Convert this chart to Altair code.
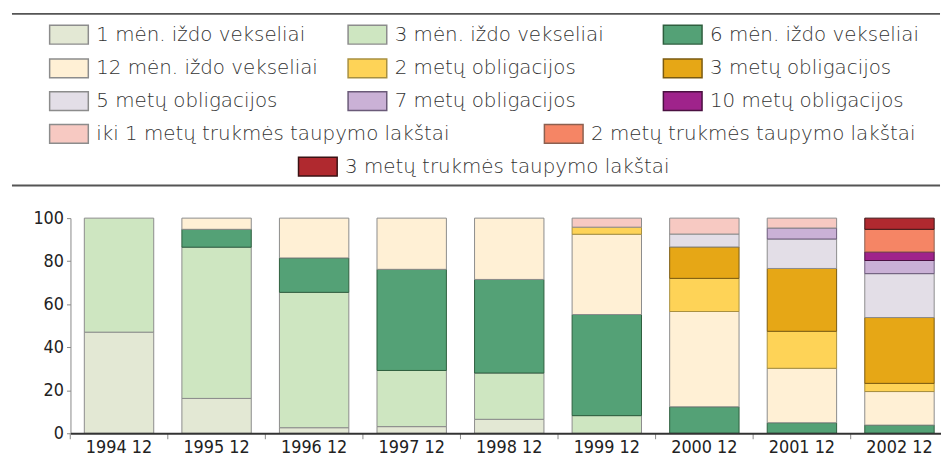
import altair as alt
import pandas as pd

# ---------------- data ----------------
periods = ["1994 12", "1995 12", "1996 12", "1997 12", "1998 12",
           "1999 12", "2000 12", "2001 12", "2002 12"]

series_names = [
    "1 mėn. iždo vekseliai", "3 mėn. iždo vekseliai", "6 mėn. iždo vekseliai",
    "12 mėn. iždo vekseliai", "2 metų obligacijos", "3 metų obligacijos",
    "5 metų obligacijos", "7 metų obligacijos", "10 metų obligacijos",
    "iki 1 metų trukmės taupymo lakštai", "2 metų trukmės taupymo lakštai",
    "3 metų trukmės taupymo lakštai",
]

m1 = [47.0, 16.2, 2.6, 3.1, 6.5, 0.0, 0.0, 0.0, 0.0]
m3 = [53.0, 70.3, 62.9, 26.1, 21.5, 8.2, 0.0, 0.0, 0.0]
m6 = [0.0, 8.3, 16.0, 47.0, 43.5, 47.0, 12.3, 4.9, 3.8]
m12 = [0.0, 5.2, 18.5, 23.8, 28.5, 37.3, 44.3, 25.3, 15.6]
y2 = [0.0, 0.0, 0.0, 0.0, 0.0, 3.3, 15.4, 17.2, 3.8]
y3 = [0.0, 0.0, 0.0, 0.0, 0.0, 0.0, 14.6, 29.2, 30.6]
y5 = [0.0, 0.0, 0.0, 0.0, 0.0, 0.0, 6.0, 13.7, 20.4]
y7 = [0.0, 0.0, 0.0, 0.0, 0.0, 0.0, 0.0, 5.1, 6.1]
y10 = [0.0, 0.0, 0.0, 0.0, 0.0, 0.0, 0.0, 0.0, 4.0]
s1 = [0.0, 0.0, 0.0, 0.0, 0.0, 4.2, 7.4, 4.6, 0.0]
s2 = [0.0, 0.0, 0.0, 0.0, 0.0, 0.0, 0.0, 0.0, 10.5]
s3 = [0.0, 0.0, 0.0, 0.0, 0.0, 0.0, 0.0, 0.0, 5.2]

series_values = [m1, m3, m6, m12, y2, y3, y5, y7, y10, s1, s2, s3]

# ---------------- styles ----------------
fills = ["#E3E8D4", "#CEE6C1", "#54A176", "#FFF0D5", "#FED357", "#E6A716",
         "#E3DEE7", "#CAB1D6", "#9F238B", "#F7C9C2", "#F58565", "#B0292F"]
strokes = ["#8C8C8C", "#8C8C8C", "#2E5E3E", "#8C8C8C", "#A89040", "#7A5A10",
           "#8C8C8C", "#6A5A78", "#4A1040", "#8C8C8C", "#8C6050", "#3A1214"]

# legend layout (page pixel coordinates)
leg_sx = [49, 350, 668, 49, 350, 668, 49, 350, 668, 49, 548, 300]
leg_cy = [33, 33, 33, 67, 67, 67, 100, 100, 100, 133, 133, 166]
sw_w, sw_h, txt_gap = 39, 19, 8

rows = []
for k, (name, vals) in enumerate(zip(series_names, series_values)):
    for p, v in zip(periods, vals):
        if v > 0:
            rows.append({"period": p, "series": name, "value": v, "ord": k})
df = pd.DataFrame(rows)

leg = pd.DataFrame({
    "series": series_names,
    "x1": leg_sx,
    "x2": [x + sw_w for x in leg_sx],
    "y1": [y - sw_h / 2 for y in leg_cy],
    "y2": [y + sw_h / 2 for y in leg_cy],
    "tx": [x + sw_w + txt_gap for x in leg_sx],
    "cy": leg_cy,
})
rules = pd.DataFrame({"x1": [11, 11], "x2": [947, 947], "y": [12, 185]})
ticks_df = pd.DataFrame({"period": periods})

W, H = 878, 217
color_scale = alt.Scale(domain=series_names, range=fills)
stroke_scale = alt.Scale(domain=series_names, range=strokes)
xband = alt.Scale(domain=periods, paddingInner=0.2886, paddingOuter=0.106, align=0.67)

axis_font = "'DejaVu Sans Condensed', 'Liberation Sans Narrow', 'Roboto Condensed', 'Liberation Sans', sans-serif"

bars = alt.Chart(df).mark_bar(strokeWidth=1).encode(
    x=alt.X("period:N", scale=xband, sort=periods,
            axis=alt.Axis(title=None, labelAngle=0, ticks=False, domainColor="#333",
                          domainWidth=2, labelFont=axis_font, labelFontSize=18,
                          labelColor="#222", labelPadding=5, zindex=1)),
    y=alt.Y("value:Q", stack="zero", scale=alt.Scale(domain=[0, 100], nice=False),
            axis=alt.Axis(title=None, values=[0, 20, 40, 60, 80, 100], grid=False,
                          labelFont=axis_font, labelFontSize=18, labelColor="#222",
                          tickColor="#888", tickSize=4, domainColor="#888",
                          labelPadding=3)),
    color=alt.Color("series:N", scale=color_scale, legend=None),
    stroke=alt.Stroke("series:N", scale=stroke_scale, legend=None),
    order=alt.Order("ord:Q", sort="ascending"),
)

xticks = alt.Chart(ticks_df).mark_rule(color="#888", strokeWidth=1, xOffset=-49.2).encode(
    x=alt.X("period:N", scale=xband, sort=periods),
    y=alt.value(H),
    y2=alt.value(H + 6),
)

lx = alt.Scale(domain=[70, 70 + W], nice=False, zero=False)
ly = alt.Scale(domain=[435, 218], nice=False, zero=False)

leg_rect = alt.Chart(leg).mark_rect(strokeWidth=1.5).encode(
    x=alt.X("x1:Q", scale=lx, axis=None), x2="x2:Q",
    y=alt.Y("y1:Q", scale=ly, axis=None), y2="y2:Q",
    color=alt.Color("series:N", scale=color_scale, legend=None),
    stroke=alt.Stroke("series:N", scale=stroke_scale, legend=None),
)
leg_text = alt.Chart(leg).mark_text(align="left", baseline="middle", font="DejaVu Sans",
                                    fontSize=20, fontWeight=300, color="#333").encode(
    x=alt.X("tx:Q", scale=lx, axis=None),
    y=alt.Y("cy:Q", scale=ly, axis=None),
    text="series:N",
)
leg_rules = alt.Chart(rules).mark_rule(color="#555", strokeWidth=2).encode(
    x=alt.X("x1:Q", scale=lx, axis=None), x2="x2:Q",
    y=alt.Y("y:Q", scale=ly, axis=None),
)

legend_layer = alt.layer(leg_rules, leg_rect, leg_text)
main = alt.layer(bars, xticks)

chart = alt.layer(main, legend_layer).resolve_scale(
    x="independent", y="independent"
).properties(
    width=W, height=H,
    padding={"left": 3, "top": 3, "right": 0, "bottom": 0},
    background="white",
).configure_view(stroke=None)

chart.save("out.html", embed_options={"renderer": "svg", "actions": False})
